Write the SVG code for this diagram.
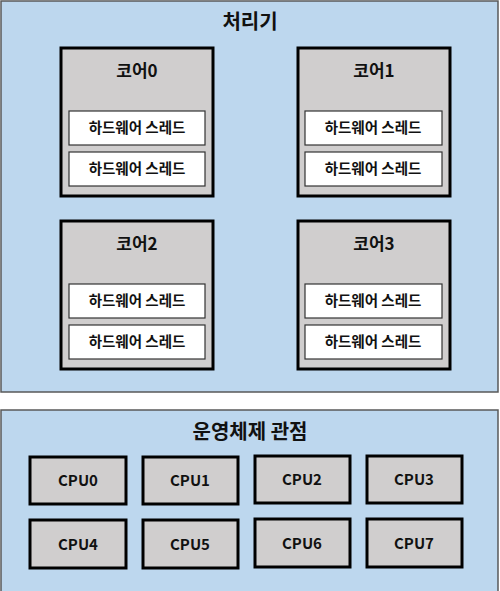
<svg xmlns="http://www.w3.org/2000/svg" width="500" height="591" viewBox="0 0 500 591">
<style>
.panel{fill:#BDD7EE;stroke:#595959;stroke-width:1.5}
.core{fill:#D0CECE;stroke:#000;stroke-width:3}
.thr{fill:#fff;stroke:#333;stroke-width:1.2}
.cpu{fill:#D0CECE;stroke:#000;stroke-width:3}
text{font-family:"Noto Sans CJK KR","Noto Sans",sans-serif;font-weight:bold;fill:#111;text-anchor:middle}
.t1{font-size:20px}
.t2{font-size:17px}
.t3{font-size:14.5px}
.t4{font-size:15px}
</style>
<rect width="500" height="591" fill="#fff"/>
<g id="processor">
<rect class="panel" x="1" y="1" width="497" height="391"/>
<text class="t1" x="250" y="29">처리기</text>
</g>
<g id="core0">
<rect class="core" x="61" y="48" width="152" height="148"/>
<text class="t2" x="137" y="77">코어0</text>
<rect class="thr" x="69" y="111" width="136" height="34"/><text class="t3" x="137" y="133">하드웨어 스레드</text>
<rect class="thr" x="69" y="152" width="136" height="34"/><text class="t3" x="137" y="174">하드웨어 스레드</text>
</g>
<g id="core1">
<rect class="core" x="298" y="48" width="152" height="148"/>
<text class="t2" x="374" y="77">코어1</text>
<rect class="thr" x="305" y="111" width="137" height="34"/><text class="t3" x="373" y="133">하드웨어 스레드</text>
<rect class="thr" x="305" y="152" width="137" height="34"/><text class="t3" x="373" y="174">하드웨어 스레드</text>
</g>
<g id="core2">
<rect class="core" x="61" y="221" width="152" height="148"/>
<text class="t2" x="137" y="250">코어2</text>
<rect class="thr" x="69" y="284" width="136" height="34"/><text class="t3" x="137" y="306">하드웨어 스레드</text>
<rect class="thr" x="69" y="325" width="136" height="34"/><text class="t3" x="137" y="347">하드웨어 스레드</text>
</g>
<g id="core3">
<rect class="core" x="298" y="221" width="152" height="148"/>
<text class="t2" x="374" y="250">코어3</text>
<rect class="thr" x="305" y="284" width="137" height="34"/><text class="t3" x="373" y="306">하드웨어 스레드</text>
<rect class="thr" x="305" y="325" width="137" height="34"/><text class="t3" x="373" y="347">하드웨어 스레드</text>
</g>
<g id="os">
<rect class="panel" x="1" y="410" width="497" height="185"/>
<text class="t1" x="250" y="439">운영체제 관점</text>
</g>
<g id="cpu0"><rect class="cpu" x="30" y="457" width="96" height="47"/><text class="t4" x="78" y="486">CPU0</text></g>
<g id="cpu1"><rect class="cpu" x="143" y="457" width="95" height="47"/><text class="t4" x="190" y="486">CPU1</text></g>
<g id="cpu2"><rect class="cpu" x="255" y="456" width="95" height="47"/><text class="t4" x="302" y="485">CPU2</text></g>
<g id="cpu3"><rect class="cpu" x="367" y="456" width="95" height="47"/><text class="t4" x="414" y="485">CPU3</text></g>
<g id="cpu4"><rect class="cpu" x="30" y="520" width="96" height="48"/><text class="t4" x="78" y="550">CPU4</text></g>
<g id="cpu5"><rect class="cpu" x="143" y="520" width="95" height="48"/><text class="t4" x="190" y="550">CPU5</text></g>
<g id="cpu6"><rect class="cpu" x="255" y="519" width="95" height="48"/><text class="t4" x="302" y="549">CPU6</text></g>
<g id="cpu7"><rect class="cpu" x="367" y="519" width="95" height="48"/><text class="t4" x="414" y="549">CPU7</text></g>
<g id="connectors"/>
</svg>
